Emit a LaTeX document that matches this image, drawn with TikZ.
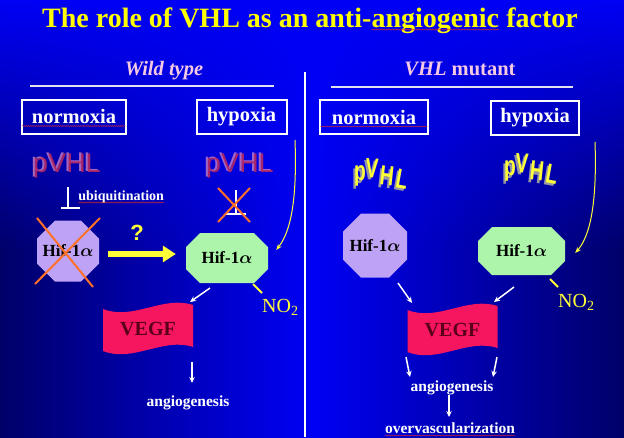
\documentclass[tikz,border=0pt]{standalone}
\usepackage{fontspec}
\setmainfont{Liberation Serif}
\newfontfamily\arialfont{Liberation Sans}
\usetikzlibrary{arrows.meta,fadings,decorations.pathmorphing}

\definecolor{bgdark}{RGB}{0,0,105}
\definecolor{bgmid}{RGB}{0,0,245}
\definecolor{ttl}{RGB}{255,255,0}
\definecolor{wtpink}{RGB}{245,200,228}
\definecolor{hifpurple}{RGB}{190,162,245}
\definecolor{hifgreen}{RGB}{172,245,170}
\definecolor{vegfred}{RGB}{245,22,95}
\definecolor{vegftxt}{RGB}{90,0,25}
\definecolor{xorange}{RGB}{255,112,40}
\definecolor{pvhlred}{RGB}{180,40,100}
\definecolor{pvhlshade}{RGB}{200,130,200}
\definecolor{wyellow}{RGB}{255,255,55}
\definecolor{wgray}{RGB}{150,150,165}
\definecolor{spellred}{RGB}{220,40,40}
\definecolor{linegray}{RGB}{225,225,240}

\tikzfading[name=topglow, top color=transparent!0, bottom color=transparent!100]

\newcommand\squig[1]{\tikz[baseline=(sqw.base)]{\node[inner sep=0pt,outer sep=0pt](sqw){#1};\draw[spellred,line width=0.35pt,decorate,decoration={snake,amplitude=0.6pt,segment length=2pt}]([yshift=-2.5pt]sqw.base west)--([yshift=-2.5pt]sqw.base east);}}

\newcommand\hiftxt{{\boldmath Hif-1$\alpha$}}

% octagon: name, cx, cy, w, h, chamfer, fill
\newcommand\myoctagon[7]{%
 \pgfmathsetmacro\ocL{#2-#4/2}\pgfmathsetmacro\ocR{#2+#4/2}%
 \pgfmathsetmacro\ocT{#3-#5/2}\pgfmathsetmacro\ocB{#3+#5/2}%
 \pgfmathsetmacro\ocLi{#2-#4/2+#6}\pgfmathsetmacro\ocRi{#2+#4/2-#6}%
 \pgfmathsetmacro\ocTi{#3-#5/2+#6}\pgfmathsetmacro\ocBi{#3+#5/2-#6}%
 \fill[#7] (\ocLi,\ocT) -- (\ocRi,\ocT) -- (\ocR,\ocTi) -- (\ocR,\ocBi) -- (\ocRi,\ocB) -- (\ocLi,\ocB) -- (\ocL,\ocBi) -- (\ocL,\ocTi) -- cycle;
 \node[hiftext, minimum width=#4, minimum height=#5] (#1) at (#2,#3) {\hiftxt};}

% VEGF flag: name, cx, cy
\newcommand\vegfflag[3]{%
 \begin{scope}[shift={(#2,#3)}]
 \fill[vegfred] (-45,-20) .. controls (-15,-8) and (15,-34) .. (45,-24) -- (45,18) .. controls (15,8) and (-15,34) .. (-45,22) -- cycle;
 \node[vegftext, minimum width=90, minimum height=44] (#1) at (0,0) {VEGF};
 \end{scope}}

% wavy yellow pVHL: name prefix, x, y of the p
\newcommand\wavyword[3]{%
 \begin{scope}[shift={(#2,#3)}]
 \foreach \ch/\dx/\dy/\rot [count=\i] in {p/0/0/0,V/12/-8/-3,H/27/0/-6,L/42/3/-10}{%
  \node[wavyshadow, rotate=\rot] (#1s\i) at (\dx-2,\dy+2.5) {\scalebox{0.8}[1.15]{\ch}};
  \node[wavyletter, rotate=\rot] (#1\i) at (\dx,\dy) {\scalebox{0.8}[1.15]{\ch}};
 }
 \end{scope}}

\tikzset{
  titletext/.style={text=ttl, font=\bfseries\fontsize{28}{30}\selectfont, inner sep=0pt, anchor=base},
  headtext/.style={text=wtpink, font=\bfseries\fontsize{20.5}{22}\selectfont, inner sep=0pt, anchor=base},
  condbox/.style={draw=white, line width=2pt, text=white, font=\bfseries\fontsize{20.5}{22}\selectfont, inner sep=0pt, minimum height=34},
  pvhlmain/.style={text=pvhlred, opacity=0.9, font=\arialfont\fontsize{27}{29}\selectfont, inner sep=0pt, anchor=base},
  pvhlshadow/.style={text=pvhlshade, opacity=0.8, font=\arialfont\fontsize{27}{29}\selectfont, inner sep=0pt, anchor=base},
  wavyletter/.style={text=wyellow, font=\arialfont\bfseries\fontsize{24}{26}\selectfont, inner sep=0pt},
  wavyshadow/.style={text=wgray, font=\arialfont\bfseries\fontsize{24}{26}\selectfont, inner sep=0pt},
  hiftext/.style={text=black, font=\bfseries\fontsize{17}{19}\selectfont, inner sep=0pt},
  vegftext/.style={text=vegftxt, font=\bfseries\fontsize{20}{22}\selectfont, inner sep=0pt},
  smalltext/.style={text=white, font=\bfseries\fontsize{15.5}{17}\selectfont, inner sep=0pt, anchor=base},
  ubitext/.style={text=white, font=\bfseries\fontsize{14}{16}\selectfont, inner sep=0pt, anchor=base west},
  notext/.style={text=wyellow, font=\fontsize{20}{22}\selectfont, inner sep=0pt, anchor=base west},
  qtext/.style={text=wyellow, font=\arialfont\bfseries\fontsize{22}{24}\selectfont, inner sep=0pt},
  inhib/.style={white, line width=2pt},
  crossline/.style={xorange, line width=2pt},
  warrow/.style={white, line width=1.5pt, -{Stealth[length=6pt,width=5.5pt]}},
  yarrow/.style={wyellow, line width=1pt, -{Stealth[length=6pt,width=4.5pt]}},
  bigarrow/.style={wyellow, line width=6pt, -{Triangle[length=13pt,width=16pt]}},
  noline/.style={wyellow, line width=2pt},
  rule/.style={linegray, line width=2pt},
  divider/.style={white, line width=1.5pt}
}

\begin{document}
\begin{tikzpicture}[x=1pt,y=-1pt]
\useasboundingbox (0,0) rectangle (624,437);
% background
\shade[left color=bgdark, right color=bgdark, middle color=bgmid] (0,0) rectangle (624,437);
\fill[bgmid, path fading=topglow] (0,0) rectangle (624,250);

% title and headings
\node[titletext] (title) at (310,27) {The role of VHL as an anti-\squig{angiogenic} factor};
\node[headtext] (wild) at (164,75) {\itshape Wild type};
\node[headtext] (mutant) at (460,75) {{\itshape VHL} mutant};

\coordinate (ruleLa) at (30,86);  \coordinate (ruleLb) at (274,86);
\coordinate (ruleRa) at (331,87); \coordinate (ruleRb) at (573,87);
\coordinate (divTop) at (305,72); \coordinate (divBot) at (305,437);
\draw[rule] (ruleLa) -- (ruleLb);
\draw[rule] (ruleRa) -- (ruleRb);
\draw[divider] (divTop) -- (divBot);

% condition boxes
\node[condbox, minimum width=104] (boxNL) at (74,116.5) {\squig{normoxia}};
\node[condbox, minimum width=90] (boxHL) at (241.5,116.5) {hypoxia};
\node[condbox, minimum width=107] (boxNR) at (374,117) {\squig{normoxia}};
\node[condbox, minimum width=88] (boxHR) at (535,117.5) {hypoxia};

% wild type pVHL
\node[pvhlshadow] (pLs) at (65,171) {pVHL};
\node[pvhlmain] (pL) at (67,172) {pVHL};
\node[pvhlshadow] (pHs) at (238,171) {pVHL};
\node[pvhlmain] (pH) at (240,172) {pVHL};

% inhibition (normoxia)
\draw[inhib] ([shift={(1,15)}]pL.base) -- ([shift={(1,36)}]pL.base);
\draw[inhib] ([shift={(-6,36)}]pL.base) -- ([shift={(13,36)}]pL.base);
\node[ubitext] (ubi) at (78,200) {\squig{ubiquitination}};

% blocked inhibition (hypoxia)
\draw[inhib] ([shift={(-4,18)}]pH.base) -- ([shift={(-4,41)}]pH.base);
\draw[inhib] ([shift={(-14,42)}]pH.base) -- ([shift={(6,42)}]pH.base);
\draw[crossline] ([shift={(-22,16)}]pH.base) -- ([shift={(10,50)}]pH.base);
\draw[crossline] ([shift={(10,16)}]pH.base) -- ([shift={(-22,50)}]pH.base);

% Hif-1alpha (wild type)
\myoctagon{hifNL}{68}{251}{62}{61}{18}{hifpurple}
\draw[crossline] ([shift={(-31,-33)}]hifNL.center) -- ([shift={(25,36)}]hifNL.center);
\draw[crossline] ([shift={(32,-33)}]hifNL.center) -- ([shift={(-33,33)}]hifNL.center);
\myoctagon{hifHL}{227}{258}{82}{50}{14}{hifgreen}

\node[qtext] (qmark) at (137,233) {?};
\draw[bigarrow] ([shift={(9,3)}]hifNL.east) -- ([shift={(-10,-4)}]hifHL.west);

\coordinate (ycL) at (295,140);
\draw[yarrow] (ycL) .. controls (297,195) and (292,230) .. ([shift={(8,-8)}]hifHL.east);

\node[notext] (noL) at (262,312) {NO\textsubscript{2}};
\draw[noline] ([shift={(26,26)}]hifHL.center) -- ([shift={(0,-19)}]noL.base west);

% VEGF wild type
\vegfflag{vegfL}{148}{329}
\draw[warrow] ([shift={(-17,30)}]hifHL.center) -- ([shift={(42,-27)}]vegfL.center);
\node[smalltext] (angL) at (188,406) {angiogenesis};
\draw[warrow] ([shift={(44,33)}]vegfL.center) -- ([shift={(4,-23)}]angL.base);

% VHL mutant
\wavyword{wN}{360}{176}
\wavyword{wH}{510}{171}

\myoctagon{hifNR}{375}{245.5}{64}{64}{18}{hifpurple}
\myoctagon{hifHR}{521.5}{251}{87}{48}{14}{hifgreen}

\coordinate (ycR) at (595,142);
\draw[yarrow] (ycR) .. controls (597,200) and (591,235) .. ([shift={(10,2)}]hifHR.east);

\node[notext] (noR) at (558,307) {NO\textsubscript{2}};
\draw[noline] ([shift={(28.5,28)}]hifHR.center) -- ([shift={(0,-20)}]noR.base west);

\vegfflag{vegfR}{452.5}{330}
\draw[warrow] ([shift={(23,37.5)}]hifNR.center) -- ([shift={(-40.5,-27)}]vegfR.center);
\draw[warrow] ([shift={(-7.5,36)}]hifHR.center) -- ([shift={(41.5,-28)}]vegfR.center);

\node[smalltext] (angR) at (452,391) {angiogenesis};
\draw[warrow] ([shift={(-46.5,27)}]vegfR.center) -- ([shift={(-42,-14)}]angR.base);
\draw[warrow] ([shift={(44.5,27)}]vegfR.center) -- ([shift={(41,-14)}]angR.base);

\node[smalltext] (overR) at (450,433) {\squig{overvascularization}};
\draw[warrow] ([shift={(-3,4)}]angR.base) -- ([shift={(-1,-16)}]overR.base);
\end{tikzpicture}
\end{document}
